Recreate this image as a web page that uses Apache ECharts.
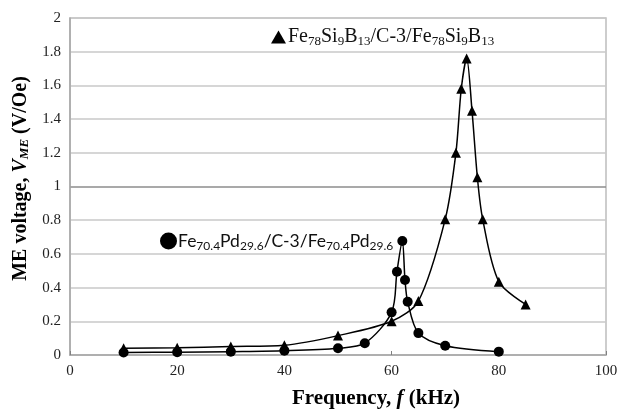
<!DOCTYPE html>
<html>
<head>
<meta charset="utf-8">
<script src="https://cdn.jsdelivr.net/npm/echarts@6/dist/echarts.min.js"></script>
<style>
  html, body { margin: 0; padding: 0; background: #fff; }
  #chart { width: 624px; height: 415px; }
</style>
</head>
<body>
<div id="chart"></div>
<script>
// Fe78Si9B13/C-3/Fe78Si9B13 (triangles)
const triFreq = [10, 20, 30, 40, 50, 60, 65, 70, 72, 73, 74, 75, 76, 77, 80, 85];
const triVolt = [0.04, 0.043, 0.05, 0.058, 0.115, 0.2, 0.32, 0.805, 1.2, 1.58, 1.76, 1.45, 1.055, 0.805, 0.435, 0.3];

// Fe70.4Pd29.6/C-3/Fe70.4Pd29.6 (circles)
const dotFreq = [10, 20, 30, 40, 50, 55, 60, 61, 62, 62.5, 63, 65, 70, 80];
const dotVolt = [0.015, 0.017, 0.02, 0.025, 0.04, 0.07, 0.253, 0.494, 0.677, 0.445, 0.316, 0.13, 0.055, 0.02];

const xTicks = [0, 20, 40, 60, 80, 100];
const yTicks = [0, 0.2, 0.4, 0.6, 0.8, 1, 1.2, 1.4, 1.6, 1.8, 2];

const serif = 'Liberation Serif';
const sans = 'Lato';

const pairs = (xs, ys) => xs.map((x, i) => [x, ys[i]]);

// darker line at 1.0, like the original
const gridColors = yTicks.map(v => (v === 1 ? '#8c8c8c' : '#c8c8c8'));

const chart = echarts.init(document.getElementById('chart'));

const option = {
    animation: false,
    grid: {
        left: 70, right: 18, top: 18, bottom: 60,
        show: true, borderColor: '#bdbdbd', borderWidth: 1.5
    },
    legend: [
        {
            data: [{ name: 'tri', icon: 'triangle' }],
            left: 266, top: 22,
            itemWidth: 15, itemHeight: 13, itemGap: 0,
            selectedMode: false,
            formatter: () => '{n|Fe}{s|78}{n|Si}{s|9}{n|B}{s|13}{n|/C-3/Fe}{s|78}{n|Si}{s|9}{n|B}{s|13}',
            textStyle: {
                padding: [0, 0, 0, -3],
                rich: {
                    n: { fontFamily: serif, fontSize: 20, color: '#111' },
                    s: { fontFamily: serif, fontSize: 13, color: '#111', padding: [10, 0, 0, 0] }
                }
            }
        },
        {
            data: [{ name: 'dot', icon: 'circle' }],
            left: 155, top: 227,
            itemWidth: 17, itemHeight: 17, itemGap: 0,
            selectedMode: false,
            formatter: () => '{n|Fe}{s|70.4}{n|Pd}{s|29.6}{n|/C-3/Fe}{s|70.4}{n|Pd}{s|29.6}',
            textStyle: {
                padding: [0, 0, 0, -4],
                rich: {
                    n: { fontFamily: sans, fontSize: 17.5, color: '#111' },
                    s: { fontFamily: sans, fontSize: 12, color: '#111', padding: [10, 0, 0, 0] }
                }
            }
        }
    ],
    xAxis: {
        type: 'value',
        min: xTicks[0], max: xTicks[xTicks.length - 1], interval: 20,
        name: '{b|Frequency, }{i|f}{b| (kHz)}',
        nameLocation: 'middle', nameGap: 33,
        nameTextStyle: {
            padding: [0, 0, 0, 76],
            rich: {
                b: { fontFamily: serif, fontSize: 21, fontWeight: 'bold', color: '#000' },
                i: { fontFamily: serif, fontSize: 21, fontWeight: 'bold', fontStyle: 'italic', color: '#000' }
            }
        },
        axisLine: { lineStyle: { color: '#a6a6a6', width: 1.5 } },
        axisTick: { inside: true, length: 4, lineStyle: { color: '#808080' } },
        axisLabel: { fontFamily: serif, fontSize: 15, color: '#222', margin: 9 },
        splitLine: { show: false }
    },
    yAxis: {
        type: 'value',
        min: yTicks[0], max: yTicks[yTicks.length - 1], interval: 0.2,
        name: '{b|ME voltage, }{i|V}{s|ME}{b| (V/Oe)}',
        nameLocation: 'middle', nameGap: 35,
        nameTextStyle: {
            padding: [0, 0, 0, 16],
            rich: {
                b: { fontFamily: serif, fontSize: 20, fontWeight: 'bold', color: '#000' },
                i: { fontFamily: serif, fontSize: 20, fontWeight: 'bold', fontStyle: 'italic', color: '#000' },
                s: { fontFamily: serif, fontSize: 13, fontWeight: 'bold', fontStyle: 'italic', color: '#000', padding: [9, 0, 0, 0] }
            }
        },
        axisLine: { show: true, lineStyle: { color: '#a6a6a6', width: 1.5 } },
        axisTick: { show: false },
        axisLabel: {
            fontFamily: serif, fontSize: 15, color: '#222', margin: 9,
            formatter: v => String(Math.round(v * 10) / 10)
        },
        splitLine: { lineStyle: { color: gridColors, width: 1.5 } }
    },
    series: [
        {
            name: 'tri',
            type: 'line',
            data: pairs(triFreq, triVolt),
            smooth: 0.3,
            symbol: 'triangle',
            symbolSize: 10,
            itemStyle: { color: '#000' },
            lineStyle: { color: '#000', width: 1.5 }
        },
        {
            name: 'dot',
            type: 'line',
            data: pairs(dotFreq, dotVolt),
            smooth: 0.3,
            symbol: 'circle',
            symbolSize: 10,
            itemStyle: { color: '#000' },
            lineStyle: { color: '#000', width: 1.5 }
        }
    ]
};

chart.setOption(option);
</script>
</body>
</html>
